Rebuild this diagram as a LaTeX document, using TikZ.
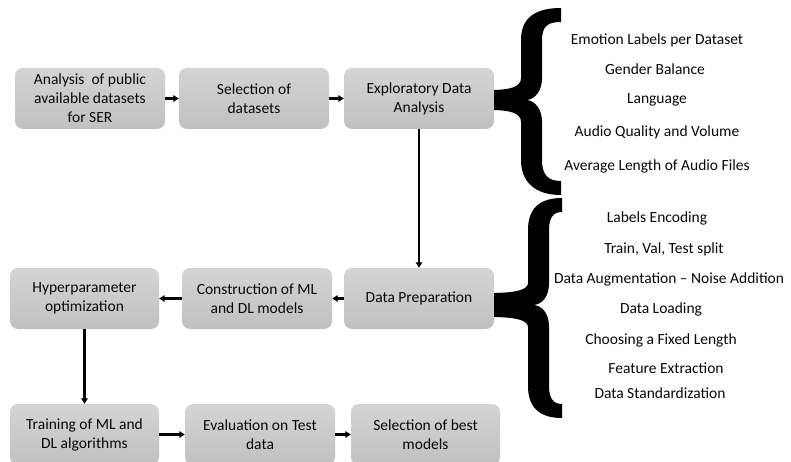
\documentclass[tikz,border=0pt]{standalone}
\usepackage{fontspec}
\setmainfont{Carlito}
\usetikzlibrary{arrows.meta}
\definecolor{boxtop}{RGB}{212,212,212}
\definecolor{boxbot}{RGB}{192,192,192}
\definecolor{ink}{RGB}{8,8,8}
\tikzset{
  stage/.style={rounded corners=8pt, top color=boxtop, bottom color=boxbot,
    draw=none, minimum width=150pt, minimum height=61pt, align=center,
    text=ink, font=\fontsize{15.5}{19}\selectfont, inner sep=0pt},
  item/.style={text=ink, font=\fontsize{15.5}{19}\selectfont, inner sep=0pt, anchor=center},
  flow/.style={line width=2.2pt, -{Triangle[length=5.5pt,width=6.5pt]}},
  bracefill/.style={fill=black, draw=none}
}
\begin{document}
\begin{tikzpicture}[x=1pt, y=-1pt]
\clip (0,0) rectangle (791,462);
\fill[white] (0,0) rectangle (791,462);

% curly braces grouping the sub-steps
\path[bracefill] (561,8) .. controls (535,8) and (521,18) .. (521,40)
  -- (521,78) .. controls (521,87) and (510,90) .. (490,90)
  -- (490,110) .. controls (510,110) and (521,113) .. (521,122)
  -- (521,160) .. controls (521,182) and (535,195) .. (561,195)
  -- (561,181) .. controls (548,181) and (542,175) .. (542,160)
  -- (542,122) .. controls (542,109) and (535,101) .. (527,100)
  .. controls (535,99) and (542,91) .. (542,78)
  -- (542,40) .. controls (542,26) and (548,22) .. (561,22) -- cycle;
\path[bracefill] (562,198) .. controls (540,198) and (528,208) .. (528,230)
  -- (528,283) .. controls (528,290) and (515,293) .. (490,293)
  -- (490,317) .. controls (515,317) and (528,320) .. (528,327)
  -- (528,386) .. controls (528,408) and (540,418) .. (562,418)
  -- (562,404) .. controls (553,404) and (549,398) .. (549,386)
  -- (549,327) .. controls (549,313) and (542,306) .. (534,305)
  .. controls (542,304) and (549,297) .. (549,283)
  -- (549,230) .. controls (549,218) and (553,212) .. (562,212) -- cycle;

% process stages
\node[stage] (ana)    at (90,98.5)    {Analysis\ \ of public\\available datasets\\for SER};
\node[stage] (sel)    at (254,98.5)   {Selection of\\datasets};
\node[stage] (eda)    at (419,98.5)   {Exploratory Data\\Analysis};
\node[stage] (prep)   at (419,298.5)  {Data Preparation};
\node[stage] (build)  at (257,298.5)  {Construction of ML\\and DL models};
\node[stage, minimum width=149pt] (hyper) at (84.5,298.5) {Hyperparameter\\optimization};
\node[stage, minimum width=149pt] (train) at (84.5,434.5) {Training of ML and\\DL algorithms};
\node[stage] (eval)   at (260,434.5)  {Evaluation on Test\\data};
\node[stage, minimum width=149pt] (best)  at (425.5,434.5) {Selection of best\\models};

% connectors
\draw[flow] (ana) -- (sel);
\draw[flow] (sel) -- (eda);
\draw[flow] (eda) -- (prep);
\draw[flow] (prep) -- (build);
\draw[flow] (build) -- (hyper);
\draw[flow] (hyper) -- (train);
\draw[flow] (train) -- (eval);
\draw[flow] (eval) -- (best);

% exploratory analysis aspects
\node[item] (e1) at (657,40)  {Emotion Labels per Dataset};
\node[item] (e2) at (655,69)  {Gender Balance};
\node[item] (e3) at (657,100) {Language};
\node[item] (e4) at (657,132) {Audio Quality and Volume};
\node[item] (e5) at (657,166) {Average Length of Audio Files};

% data preparation steps
\node[item] (p1) at (657,218) {Labels Encoding};
\node[item] (p2) at (664,249) {Train, Val, Test split};
\node[item] (p3) at (669,279) {Data Augmentation – Noise Addition};
\node[item] (p4) at (661,309) {Data Loading};
\node[item] (p5) at (661,340) {Choosing a Fixed Length};
\node[item] (p6) at (666,368) {Feature Extraction};
\node[item] (p7) at (660,393) {Data Standardization};
\end{tikzpicture}
\end{document}
